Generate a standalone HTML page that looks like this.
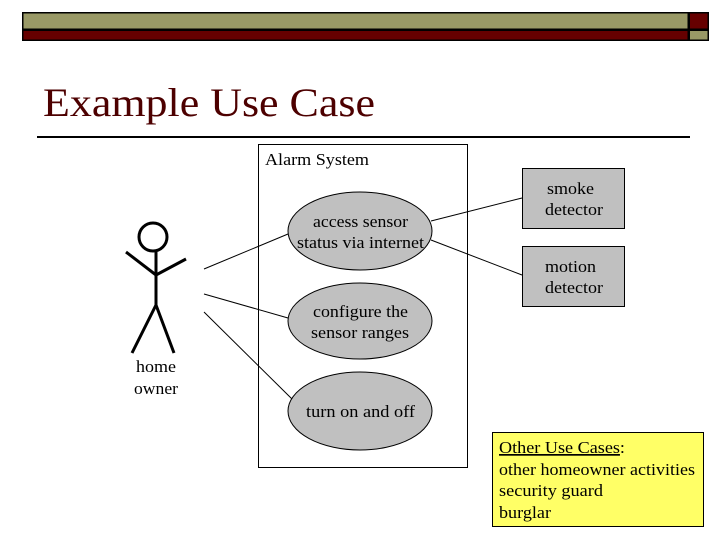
<!DOCTYPE html>
<html><head><meta charset="utf-8"><style>
body{margin:0;background:#fff;}
svg{display:block;font-family:"Liberation Serif",serif;}
</style></head><body>
<svg width="720" height="540" viewBox="0 0 720 540">
<rect x="22" y="12" width="687" height="29" fill="#000"/>
<rect x="23.5" y="13.5" width="664" height="15" fill="#999966"/>
<rect x="23.5" y="31" width="664" height="8.5" fill="#660000"/>
<rect x="690" y="13.5" width="17.5" height="15" fill="#660000"/>
<rect x="690" y="31" width="17.5" height="8.5" fill="#999966"/>
<text x="43" y="116" font-size="40" fill="#4d0000" textLength="332" lengthAdjust="spacingAndGlyphs">Example Use Case</text>
<line x1="37" y1="137" x2="690" y2="137" stroke="#000" stroke-width="2"/>
<rect x="258.5" y="144.5" width="209" height="323" fill="#fff" stroke="#000"/>
<text x="265" y="165" font-size="17" textLength="104" lengthAdjust="spacingAndGlyphs">Alarm System</text>
<g stroke="#000" stroke-width="1" fill="none">
<line x1="204" y1="269" x2="288" y2="234"/>
<line x1="204" y1="294" x2="288" y2="318"/>
<line x1="204" y1="312" x2="292" y2="399"/>
<line x1="431" y1="221" x2="522" y2="198"/>
<line x1="431" y1="240" x2="522" y2="275"/>
</g>
<g fill="#c0c0c0" stroke="#000">
<ellipse cx="360" cy="231" rx="72" ry="39"/>
<ellipse cx="360" cy="321" rx="72" ry="38"/>
<ellipse cx="360" cy="411" rx="72" ry="39"/>
<rect x="522.5" y="168.5" width="102" height="60"/>
<rect x="522.5" y="246.5" width="102" height="60"/>
</g>
<g font-size="17" lengthAdjust="spacingAndGlyphs">
<text x="313" y="227" textLength="95" lengthAdjust="spacingAndGlyphs">access sensor</text>
<text x="297" y="248" textLength="127" lengthAdjust="spacingAndGlyphs">status via internet</text>
<text x="313" y="317" textLength="95" lengthAdjust="spacingAndGlyphs">configure the</text>
<text x="311" y="338" textLength="98" lengthAdjust="spacingAndGlyphs">sensor ranges</text>
<text x="306" y="417" textLength="109" lengthAdjust="spacingAndGlyphs">turn on and off</text>
<text x="547" y="194" textLength="47" lengthAdjust="spacingAndGlyphs">smoke</text>
<text x="545" y="215" textLength="58" lengthAdjust="spacingAndGlyphs">detector</text>
<text x="545" y="272" textLength="51" lengthAdjust="spacingAndGlyphs">motion</text>
<text x="545" y="293" textLength="58" lengthAdjust="spacingAndGlyphs">detector</text>
<text x="136" y="372" textLength="40" lengthAdjust="spacingAndGlyphs">home</text>
<text x="134" y="394" textLength="44" lengthAdjust="spacingAndGlyphs">owner</text>
</g>
<g stroke="#000" stroke-width="3" fill="none">
<circle cx="153" cy="237" r="14"/>
<line x1="156" y1="251" x2="156" y2="305"/>
<line x1="126" y1="252" x2="156" y2="275"/>
<line x1="186" y1="259" x2="156" y2="275"/>
<line x1="156" y1="305" x2="132" y2="353"/>
<line x1="156" y1="305" x2="174" y2="353"/>
</g>
<rect x="492.5" y="432.5" width="211" height="94" fill="#ffff66" stroke="#000"/>
<g font-size="17">
<text x="499" y="453" textLength="126" lengthAdjust="spacingAndGlyphs"><tspan text-decoration="underline">Other Use Cases</tspan>:</text>
<text x="499" y="475" textLength="196" lengthAdjust="spacingAndGlyphs">other homeowner activities</text>
<text x="499" y="496" textLength="104" lengthAdjust="spacingAndGlyphs">security guard</text>
<text x="499" y="518" textLength="52" lengthAdjust="spacingAndGlyphs">burglar</text>
</g>
</svg>
</body></html>
